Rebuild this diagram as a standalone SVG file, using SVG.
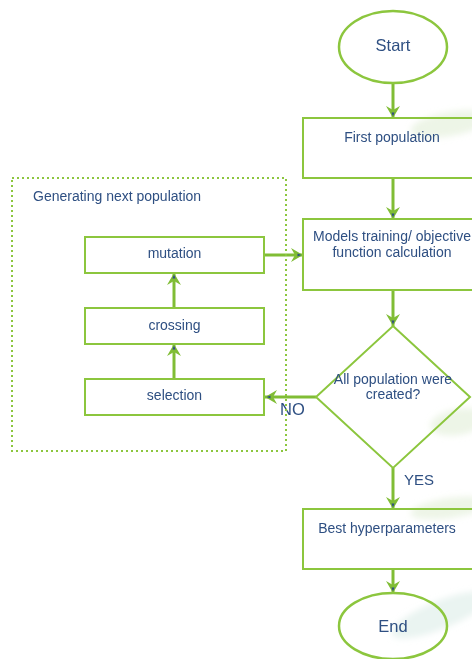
<svg xmlns="http://www.w3.org/2000/svg" width="472" height="659" viewBox="0 0 472 659">
<defs>
<style>
.box{fill:none;stroke:#8cc63e;stroke-width:2}
.term{fill:none;stroke:#8cc63e;stroke-width:2.5}
.conn{fill:none;stroke:#80bd35;stroke-width:3}
.grp{fill:none;stroke:#8cc63e;stroke-width:2;stroke-dasharray:2 3}
.t{font-family:"Liberation Sans",Arial,sans-serif;font-size:14px;fill:#2e4f82;text-anchor:middle}
.tl{font-family:"Liberation Sans",Arial,sans-serif;font-size:14px;fill:#2e4f82}
.big{font-size:16.5px}
.wm{fill:#dcebd0;opacity:0.5}
</style>
<filter id="blur" x="-20%" y="-50%" width="140%" height="200%"><feGaussianBlur stdDeviation="3"/></filter>
<marker id="ah" viewBox="0 0 12 14" refX="12" refY="7" markerWidth="12" markerHeight="14" markerUnits="userSpaceOnUse" orient="auto">
<path d="M0,0 L12,7 L0,14 L4,7 Z" fill="#80bd35"/>
<path d="M6.5,5.4 L10.5,7 L6.5,8.6 Z" fill="#2e4f82"/>
</marker>
</defs>
<rect width="472" height="659" fill="#ffffff"/>
<g id="watermark" filter="url(#blur)">
<ellipse class="wm" cx="450" cy="124" rx="40" ry="12" transform="rotate(-10 450 124)"/>
<ellipse class="wm" cx="458" cy="422" rx="28" ry="13" transform="rotate(-10 458 422)"/>
<ellipse class="wm" cx="450" cy="508" rx="40" ry="10" transform="rotate(-8 450 508)"/>
<ellipse class="wm" cx="440" cy="615" rx="52" ry="14" transform="rotate(-22 440 615)" style="fill:#d5e9e3"/>
</g>
<g id="connectors">
<line class="conn" x1="393" y1="83" x2="393" y2="118" marker-end="url(#ah)"/>
<line class="conn" x1="393" y1="178" x2="393" y2="219" marker-end="url(#ah)"/>
<line class="conn" x1="393" y1="290" x2="393" y2="326" marker-end="url(#ah)"/>
<line class="conn" x1="316" y1="397" x2="265" y2="397" marker-end="url(#ah)"/>
<line class="conn" x1="393" y1="468" x2="393" y2="509" marker-end="url(#ah)"/>
<line class="conn" x1="393" y1="569" x2="393" y2="593" marker-end="url(#ah)"/>
<line class="conn" x1="174" y1="379" x2="174" y2="344" marker-end="url(#ah)"/>
<line class="conn" x1="174" y1="308" x2="174" y2="273" marker-end="url(#ah)"/>
<line class="conn" x1="264" y1="255" x2="303" y2="255" marker-end="url(#ah)"/>
<text class="tl big" x="280" y="415">NO</text>
<text class="tl big" x="404" y="485" style="font-size:15px">YES</text>
</g>
<g id="group-next">
<rect class="grp" x="12" y="178" width="274" height="273"/>
<text class="tl" x="33" y="201">Generating next population</text>
</g>
<g id="start">
<ellipse class="term" cx="393" cy="47" rx="54" ry="36"/>
<text class="t big" x="393" y="51">Start</text>
</g>
<g id="first-population">
<rect class="box" x="303" y="118" width="180" height="60"/>
<text class="t" x="392" y="142">First population</text>
</g>
<g id="models-training">
<rect class="box" x="303" y="219" width="180" height="71"/>
<text class="t" x="392" y="241">Models training/ objective</text>
<text class="t" x="392" y="257">function calculation</text>
</g>
<g id="decision">
<polygon class="box" points="393,326 470,397 393,468 316,397"/>
<text class="t" x="393" y="384">All population were</text>
<text class="t" x="393" y="399">created?</text>
</g>
<g id="mutation">
<rect class="box" x="85" y="237" width="179" height="36"/>
<text class="t" x="174.500" y="258">mutation</text>
</g>
<g id="crossing">
<rect class="box" x="85" y="308" width="179" height="36"/>
<text class="t" x="174.500" y="330">crossing</text>
</g>
<g id="selection">
<rect class="box" x="85" y="379" width="179" height="36"/>
<text class="t" x="174.500" y="400">selection</text>
</g>
<g id="best-hyperparameters">
<rect class="box" x="303" y="509" width="180" height="60"/>
<text class="t" x="387" y="533">Best hyperparameters</text>
</g>
<g id="end">
<ellipse class="term" cx="393" cy="626" rx="54" ry="33"/>
<text class="t big" x="393" y="632">End</text>
</g>
</svg>
